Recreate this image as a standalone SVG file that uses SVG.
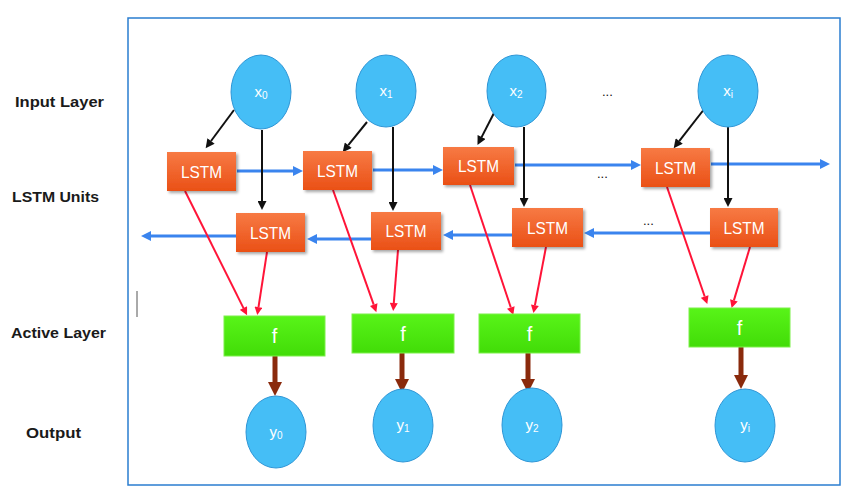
<svg xmlns="http://www.w3.org/2000/svg" width="850" height="500" viewBox="0 0 850 500">
<style>
.lbl{font-family:"Liberation Sans",Arial,sans-serif;font-weight:bold;font-size:15px;fill:#1a1a1a}
.wt{font-family:"Liberation Sans",Arial,sans-serif;fill:#ffffff;text-anchor:middle}
.circ{fill:#45bef6;stroke:#2f96d6;stroke-width:1}
.lstm{fill:url(#gO);filter:url(#sh)}
.fbox{fill:url(#gG);stroke:#7cf04a;stroke-width:1}
.blue{stroke:#3a84ee;stroke-width:3;fill:none;marker-end:url(#mB)}
.blk{stroke:#111111;stroke-width:2;fill:none;marker-end:url(#mK)}
.red{stroke:#ff1438;stroke-width:2;fill:none;marker-end:url(#mR)}
.brn{stroke:#8a2a0c;stroke-width:5;fill:none;marker-end:url(#mW)}
.dots{font-family:"Liberation Sans",Arial,sans-serif;font-size:13px;fill:#111111}
</style>
<defs>
<linearGradient id="gO" x1="0" y1="0" x2="0" y2="1">
<stop offset="0" stop-color="#f77a44"/>
<stop offset="1" stop-color="#ea5016"/>
</linearGradient>
<linearGradient id="gG" x1="0" y1="0" x2="0" y2="1">
<stop offset="0" stop-color="#58f418"/>
<stop offset="1" stop-color="#42dc08"/>
</linearGradient>
<filter id="sh" x="-10%" y="-10%" width="130%" height="140%">
<feDropShadow dx="2" dy="2" stdDeviation="1.5" flood-color="#000000" flood-opacity="0.35"/>
</filter>
<marker id="mB" viewBox="0 0 10 10" markerUnits="userSpaceOnUse" markerWidth="10" markerHeight="10" refX="0" refY="5" orient="auto"><path d="M0,0 L10,5 L0,10 z" fill="#3a84ee"/></marker>
<marker id="mK" viewBox="0 0 10 10" markerUnits="userSpaceOnUse" markerWidth="10" markerHeight="9" refX="0" refY="5" orient="auto"><path d="M0,0 L10,5 L0,10 z" fill="#111111"/></marker>
<marker id="mR" viewBox="0 0 10 10" markerUnits="userSpaceOnUse" markerWidth="10" markerHeight="8" refX="0" refY="5" orient="auto"><path d="M0,0 L10,5 L0,10 z" fill="#ff1438"/></marker>
<marker id="mW" viewBox="0 0 10 10" markerUnits="userSpaceOnUse" markerWidth="14" markerHeight="14" refX="0" refY="5" orient="auto"><path d="M0,0 L10,5 L0,10 z" fill="#8a2a0c"/></marker>
</defs>
<rect x="0" y="0" width="850" height="500" fill="#ffffff"/>
<rect x="128" y="18" width="712" height="467" fill="none" stroke="#2a7dd0" stroke-width="1.5"/>
<line x1="137" y1="291" x2="137" y2="317" stroke="#555555" stroke-width="1"/>

<g id="labels">
<text class="lbl" x="15" y="107" textLength="89" lengthAdjust="spacingAndGlyphs">Input Layer</text>
<text class="lbl" x="12" y="202" textLength="87" lengthAdjust="spacingAndGlyphs">LSTM Units</text>
<text class="lbl" x="11" y="338" textLength="95" lengthAdjust="spacingAndGlyphs">Active Layer</text>
<text class="lbl" x="26" y="438" textLength="55" lengthAdjust="spacingAndGlyphs">Output</text>
</g>

<g id="connectors">
<line class="blue" x1="237" y1="171" x2="293" y2="171"/>
<line class="blue" x1="373" y1="170" x2="433" y2="170"/>
<line class="blue" x1="515" y1="165" x2="631" y2="165"/>
<line class="blue" x1="711" y1="164" x2="820" y2="164"/>
<line class="blue" x1="236" y1="236" x2="151" y2="236"/>
<line class="blue" x1="371" y1="239" x2="317" y2="239"/>
<line class="blue" x1="512" y1="235" x2="453" y2="235"/>
<line class="blue" x1="710" y1="233" x2="594" y2="233"/>
<line class="blk" x1="234" y1="110" x2="211" y2="141"/>
<line class="blk" x1="262" y1="130" x2="262" y2="201"/>
<line class="blk" x1="367" y1="122" x2="348.3" y2="145.2"/>
<line class="blk" x1="393" y1="127" x2="393" y2="202"/>
<line class="blk" x1="494" y1="113" x2="481.6" y2="137.1"/>
<line class="blk" x1="524" y1="127" x2="524" y2="198"/>
<line class="blk" x1="705" y1="108" x2="679.2" y2="141.1"/>
<line class="blk" x1="728" y1="127" x2="728" y2="198"/>
<line class="red" x1="185" y1="191" x2="243.5" y2="308.1"/>
<line class="red" x1="267" y1="252" x2="258.5" y2="307.1"/>
<line class="red" x1="333" y1="190" x2="373.7" y2="304.6"/>
<line class="red" x1="398" y1="250" x2="393.8" y2="303"/>
<line class="red" x1="470" y1="185" x2="510.8" y2="307.5"/>
<line class="red" x1="546" y1="247" x2="534.9" y2="305.2"/>
<line class="red" x1="667" y1="187" x2="704.7" y2="296.5"/>
<line class="red" x1="750" y1="247" x2="733.9" y2="300.4"/>
<line class="brn" x1="275" y1="356" x2="275" y2="382"/>
<line class="brn" x1="402" y1="353" x2="402" y2="379"/>
<line class="brn" x1="528" y1="353" x2="528" y2="379"/>
<line class="brn" x1="741" y1="347" x2="741" y2="375"/>
<text class="dots" x="602" y="96">...</text>
<text class="dots" x="597" y="178">...</text>
<text class="dots" x="643" y="225">...</text>
</g>

<g id="x0"><ellipse class="circ" cx="261" cy="92" rx="30" ry="37"/><text class="wt" x="261" y="97" font-size="15">x<tspan font-size="10" dy="2">0</tspan></text></g>
<g id="x1"><ellipse class="circ" cx="386" cy="91" rx="30" ry="36"/><text class="wt" x="386" y="96" font-size="15">x<tspan font-size="10" dy="2">1</tspan></text></g>
<g id="x2"><ellipse class="circ" cx="516.5" cy="91" rx="29.5" ry="36"/><text class="wt" x="516" y="96" font-size="15">x<tspan font-size="10" dy="2">2</tspan></text></g>
<g id="xi"><ellipse class="circ" cx="728" cy="91" rx="30" ry="36"/><text class="wt" x="728" y="96" font-size="15">x<tspan font-size="10" dy="2">i</tspan></text></g>

<g id="lstm0f"><rect class="lstm" x="167" y="152" width="69" height="39"/><text class="wt" x="201.5" y="178" font-size="17" textLength="41" lengthAdjust="spacingAndGlyphs">LSTM</text></g>
<g id="lstm1f"><rect class="lstm" x="303" y="151" width="69" height="39"/><text class="wt" x="337.5" y="177" font-size="17" textLength="41" lengthAdjust="spacingAndGlyphs">LSTM</text></g>
<g id="lstm2f"><rect class="lstm" x="443" y="147" width="71" height="38"/><text class="wt" x="478.5" y="172" font-size="17" textLength="41" lengthAdjust="spacingAndGlyphs">LSTM</text></g>
<g id="lstmif"><rect class="lstm" x="641" y="148" width="69" height="39"/><text class="wt" x="675.5" y="174" font-size="17" textLength="41" lengthAdjust="spacingAndGlyphs">LSTM</text></g>
<g id="lstm0b"><rect class="lstm" x="236" y="213" width="69" height="39"/><text class="wt" x="270.5" y="239" font-size="17" textLength="41" lengthAdjust="spacingAndGlyphs">LSTM</text></g>
<g id="lstm1b"><rect class="lstm" x="371" y="212" width="70" height="38"/><text class="wt" x="406" y="237" font-size="17" textLength="41" lengthAdjust="spacingAndGlyphs">LSTM</text></g>
<g id="lstm2b"><rect class="lstm" x="512" y="208" width="71" height="39"/><text class="wt" x="547.5" y="234" font-size="17" textLength="41" lengthAdjust="spacingAndGlyphs">LSTM</text></g>
<g id="lstmib"><rect class="lstm" x="710" y="208" width="68" height="39"/><text class="wt" x="744" y="234" font-size="17" textLength="41" lengthAdjust="spacingAndGlyphs">LSTM</text></g>

<g id="f0"><rect class="fbox" x="224" y="316" width="101" height="40"/><text class="wt" x="274.5" y="343" font-size="20">f</text></g>
<g id="f1"><rect class="fbox" x="352" y="314" width="102" height="39"/><text class="wt" x="403" y="341" font-size="20">f</text></g>
<g id="f2"><rect class="fbox" x="479" y="314" width="101" height="39"/><text class="wt" x="529.5" y="341" font-size="20">f</text></g>
<g id="fi"><rect class="fbox" x="689" y="308" width="101" height="39"/><text class="wt" x="739.5" y="335" font-size="20">f</text></g>

<g id="y0"><ellipse class="circ" cx="276" cy="432" rx="30" ry="36"/><text class="wt" x="276" y="437" font-size="15">y<tspan font-size="10" dy="2">0</tspan></text></g>
<g id="y1"><ellipse class="circ" cx="403" cy="425.5" rx="30" ry="36.5"/><text class="wt" x="403" y="430" font-size="15">y<tspan font-size="10" dy="2">1</tspan></text></g>
<g id="y2"><ellipse class="circ" cx="532" cy="425" rx="30" ry="37"/><text class="wt" x="532" y="430" font-size="15">y<tspan font-size="10" dy="2">2</tspan></text></g>
<g id="yi"><ellipse class="circ" cx="745" cy="425.5" rx="30" ry="36.5"/><text class="wt" x="745" y="430" font-size="15">y<tspan font-size="10" dy="2">i</tspan></text></g>
</svg>
